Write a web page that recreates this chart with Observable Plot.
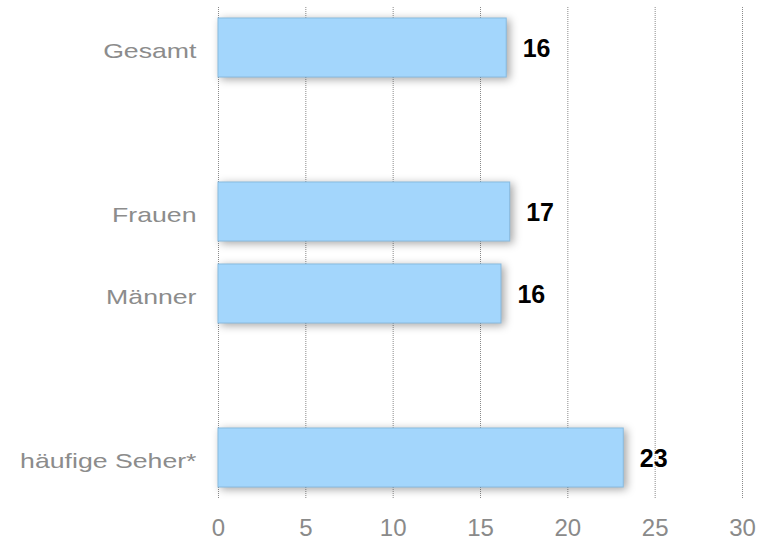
<!DOCTYPE html>
<html><head><meta charset="utf-8">
<script src="https://cdn.jsdelivr.net/npm/d3@7"></script>
<script src="https://cdn.jsdelivr.net/npm/@observablehq/plot@0.6"></script>
<style>
body{margin:0;background:#fff;}
</style></head><body><div id="chart"></div>
<script>
const categories = ["Gesamt","gap1","Frauen","Männer","gap2","häufige Seher*"];
const barCategories = ["Gesamt","Frauen","Männer","häufige Seher*"];
const values = [16.5, 16.7, 16.2, 23.2];
const valueLabels = ["16","17","16","23"];
const xTicks = [0,5,10,15,20,25,30];

const data = barCategories.map((c,i)=>({category:c, value: values[i], label: valueLabels[i]}));

const plot = Plot.plot({
  width: 769, height: 540,
  marginLeft: 218, marginRight: 27, marginTop: 7, marginBottom: 41,
  style: {fontFamily: "'Liberation Sans', Arial, sans-serif", background: "#fff"},
  x: {domain:[0,30], ticks: xTicks},
  y: {domain: categories, paddingInner: 0.28, paddingOuter: 0.14},
  marks: [
    Plot.gridX(xTicks, {stroke:"#8a8a8a", strokeOpacity:1, strokeDasharray:"1,1", strokeWidth:1}),
    Plot.barX(data, {y:"category", x:"value", fill:"#a3d6fc", stroke:"#88bbe0", strokeWidth:1}),
    Plot.text(data, {y:"category", x:"value", text:"label", textAnchor:"start", dx:16, dy:1, fontSize:25, fontWeight:"bold", fill:"#000"}),
    Plot.axisX({ticks: xTicks, tickSize:0, tickPadding:19, fontSize:24, color:"#8a8a8a", label:null}),
    Plot.axisY({ticks: barCategories, tickSize:0, tickPadding:22, fontSize:21, color:"#8c8c8c", label:null, dy:3})
  ]
});
document.getElementById("chart").appendChild(plot);

// bar drop shadow
plot.querySelectorAll('g[aria-label="bar"]').forEach(g => {
  g.style.filter = "drop-shadow(3px 2px 4px rgba(0,0,0,0.35))";
});
// widen category labels horizontally to match the reference lettering
plot.querySelectorAll('g[aria-label="y-axis tick label"] text').forEach(el => {
  const t = el.getAttribute("transform");
  if (t && t.includes("translate")) {
    el.setAttribute("transform", t + " scale(1.27,1)");
  } else {
    const x = +(el.getAttribute("x") || 0);
    el.setAttribute("transform", `translate(${x},0) scale(1.27,1) translate(${-x},0)`);
  }
});
</script></body></html>
